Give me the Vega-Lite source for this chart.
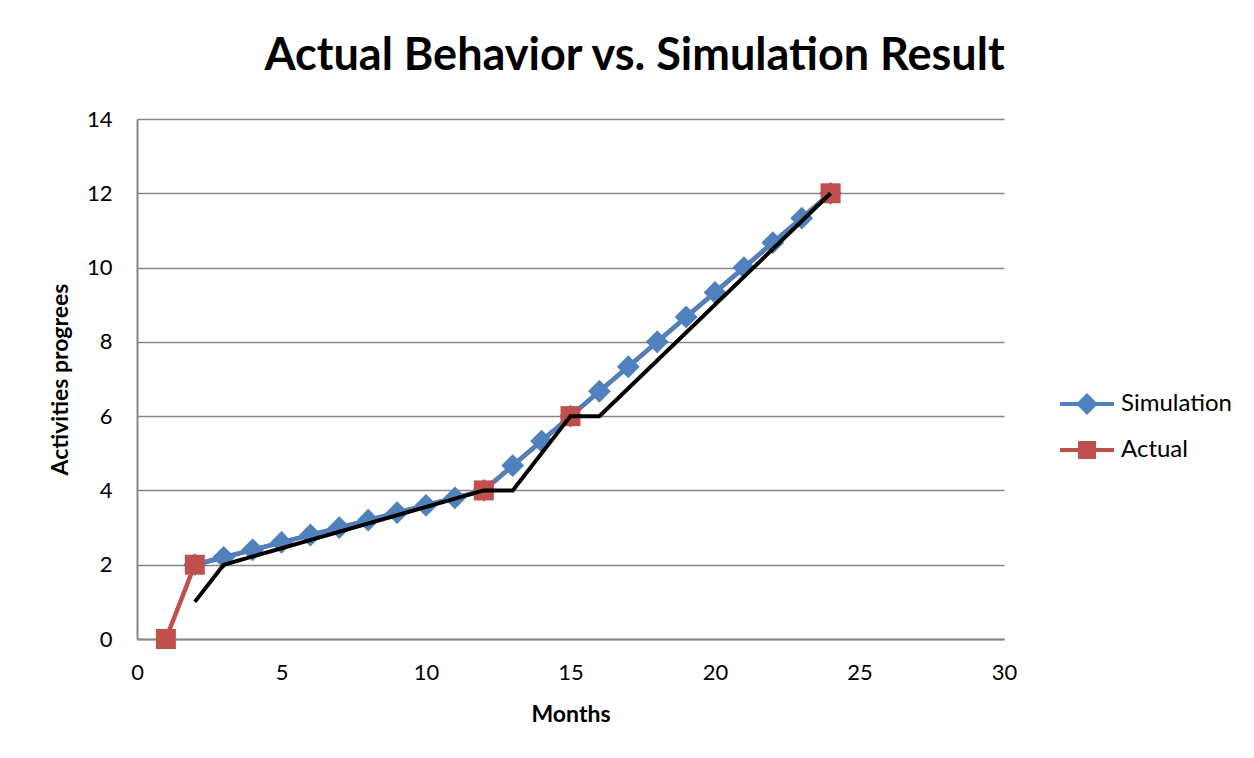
{
  "$schema": "https://vega.github.io/schema/vega-lite/v6.json",
  "autosize": "none",
  "width": 867,
  "height": 520,
  "padding": {"left": 137, "top": 119, "right": 250, "bottom": 119},
  "background": "white",
  "config": {
    "font": "Lato",
    "view": {"stroke": null}
  },
  "title": {
    "text": "Actual Behavior vs. Simulation Result",
    "font": "Lato",
    "fontSize": 45,
    "fontWeight": "bold",
    "color": "#000000",
    "anchor": "middle",
    "dx": 64,
    "baseline": "alphabetic",
    "offset": -7
  },
  "datasets": {
    "series": [
      {"month": 2, "value": 2.0, "series": "Simulation"},
      {"month": 3, "value": 2.2, "series": "Simulation"},
      {"month": 4, "value": 2.4, "series": "Simulation"},
      {"month": 5, "value": 2.6, "series": "Simulation"},
      {"month": 6, "value": 2.8, "series": "Simulation"},
      {"month": 7, "value": 3.0, "series": "Simulation"},
      {"month": 8, "value": 3.2, "series": "Simulation"},
      {"month": 9, "value": 3.4, "series": "Simulation"},
      {"month": 10, "value": 3.6, "series": "Simulation"},
      {"month": 11, "value": 3.8, "series": "Simulation"},
      {"month": 12, "value": 4.0, "series": "Simulation"},
      {"month": 13, "value": 4.67, "series": "Simulation"},
      {"month": 14, "value": 5.33, "series": "Simulation"},
      {"month": 15, "value": 6.0, "series": "Simulation"},
      {"month": 16, "value": 6.67, "series": "Simulation"},
      {"month": 17, "value": 7.33, "series": "Simulation"},
      {"month": 18, "value": 8.0, "series": "Simulation"},
      {"month": 19, "value": 8.67, "series": "Simulation"},
      {"month": 20, "value": 9.33, "series": "Simulation"},
      {"month": 21, "value": 10.0, "series": "Simulation"},
      {"month": 22, "value": 10.67, "series": "Simulation"},
      {"month": 23, "value": 11.33, "series": "Simulation"},
      {"month": 24, "value": 12.0, "series": "Simulation"},
      {"month": 1, "value": 0, "series": "Actual"},
      {"month": 2, "value": 2, "series": "Actual"},
      {"month": 12, "value": 4, "series": "Actual"},
      {"month": 15, "value": 6, "series": "Actual"},
      {"month": 24, "value": 12, "series": "Actual"}
    ],
    "reference": [
      {"month": 2, "value": 1},
      {"month": 3, "value": 2},
      {"month": 12, "value": 4},
      {"month": 13, "value": 4},
      {"month": 15, "value": 6},
      {"month": 16, "value": 6},
      {"month": 24, "value": 12}
    ]
  },
  "encoding": {
    "x": {
      "field": "month",
      "type": "quantitative",
      "scale": {"domain": [0, 30], "nice": false, "zero": false},
      "axis": {
        "title": "Months",
        "values": [0, 5, 10, 15, 20, 25, 30],
        "grid": false,
        "ticks": false,
        "labelFlush": false,
        "domainColor": "#868686",
        "domainWidth": 2,
        "labelFont": "Lato",
        "labelFontSize": 22,
        "labelColor": "#000000",
        "labelPadding": 23,
        "titleFont": "Lato",
        "titleFontSize": 23,
        "titleFontWeight": "bold",
        "titleColor": "#000000",
        "titlePadding": 20
      }
    },
    "y": {
      "field": "value",
      "type": "quantitative",
      "scale": {"domain": [0, 14], "nice": false},
      "axis": {
        "title": "Activities progrees",
        "values": [0, 2, 4, 6, 8, 10, 12, 14],
        "grid": true,
        "gridColor": "#868686",
        "gridWidth": 1.5,
        "ticks": false,
        "labelFlush": false,
        "domainColor": "#868686",
        "domainWidth": 2,
        "labelFont": "Lato",
        "labelFontSize": 22,
        "labelColor": "#000000",
        "labelPadding": 25,
        "titleFont": "Lato",
        "titleFontSize": 23,
        "titleFontWeight": "bold",
        "titleColor": "#000000",
        "titlePadding": 14
      }
    }
  },
  "layer": [
    {
      "data": {"name": "series"},
      "transform": [{"filter": "datum.series === 'Actual'"}],
      "mark": {"type": "line", "strokeWidth": 4.5},
      "encoding": {
        "color": {
          "field": "series",
          "type": "nominal",
          "scale": {"domain": ["Simulation", "Actual"], "range": ["#4F81BD", "#C0504D"]},
          "legend": {
            "title": null,
            "orient": "none",
            "legendX": 921,
            "legendY": 256,
            "padding": 0,
            "symbolSize": 2916,
            "symbolStrokeWidth": 4,
            "labelFont": "Lato",
            "labelFontSize": 24,
            "labelColor": "#000000",
            "labelOffset": 5,
            "rowPadding": -6,
            "values": ["Simulation", "Actual"],
            "encode": {
              "symbols": {
                "update": {
                  "shape": {"signal": "datum.value === 'Simulation' ? 'M-1,0L-0.3,0M-0.3,0L0,-0.3L0.3,0L0,0.3ZM0.3,0L1,0' : 'M-1,0L-0.26,0M-0.26,-0.26L0.26,-0.26L0.26,0.26L-0.26,0.26ZM0.26,0L1,0'"},
                  "fill": {"signal": "scale('color', datum.value)"},
                  "stroke": {"signal": "scale('color', datum.value)"},
                  "fillOpacity": {"value": 1},
                  "strokeWidth": {"value": 4}
                }
              }
            }
          }
        }
      }
    },
    {
      "data": {"name": "series"},
      "transform": [{"filter": "datum.series === 'Simulation'"}],
      "mark": {"type": "line", "strokeWidth": 4.5},
      "encoding": {
        "color": {"field": "series", "type": "nominal"}
      }
    },
    {
      "data": {"name": "series"},
      "transform": [{"filter": "datum.series === 'Simulation'"}],
      "mark": {"type": "point", "shape": "diamond", "filled": true, "opacity": 1, "size": 520},
      "encoding": {
        "color": {"field": "series", "type": "nominal"}
      }
    },
    {
      "data": {"name": "series"},
      "transform": [{"filter": "datum.series === 'Actual'"}],
      "mark": {"type": "point", "shape": "square", "filled": true, "opacity": 1, "size": 400},
      "encoding": {
        "color": {"field": "series", "type": "nominal"}
      }
    },
    {
      "data": {"name": "reference"},
      "mark": {"type": "line", "color": "#000000", "strokeWidth": 4},
      "encoding": {}
    }
  ]
}
